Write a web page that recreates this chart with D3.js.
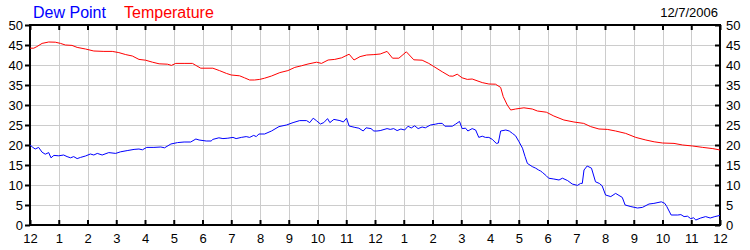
<!DOCTYPE html>
<html>
<head>
<meta charset="utf-8">
<script src="https://cdn.jsdelivr.net/npm/d3@7"></script>
<style>
  body { margin: 0; background: #fff; }
  svg text { font-family: "Liberation Sans", Arial, sans-serif; }
</style>
</head>
<body>
<div id="chart"></div>
<script>
// readings, hours since midnight
const tempHours = [0, 0.13, 0.24, 0.42, 0.65, 0.88, 1.06, 1.23, 1.46, 1.64, 1.93, 2.22, 2.57, 2.86, 3.09, 3.33, 3.56, 3.79, 4.02, 4.26, 4.49, 4.78, 4.92, 5.07, 5.36, 5.65, 5.77, 5.94, 6.36, 6.59, 6.83, 7.0, 7.29, 7.46, 7.64, 7.81, 7.99, 8.16, 8.4, 8.69, 8.97, 9.21, 9.44, 9.67, 9.97, 10.14, 10.37, 10.6, 10.84, 11.1, 11.27, 11.48, 11.71, 11.96, 12.18, 12.42, 12.61, 12.83, 13.09, 13.35, 13.64, 13.87, 14.05, 14.34, 14.59, 14.71, 14.86, 15.03, 15.21, 15.38, 15.73, 15.96, 16.19, 16.37, 16.46, 16.6, 16.72, 16.89, 17.18, 17.47, 17.65, 17.96, 18.22, 18.57, 18.92, 19.26, 19.5, 19.79, 20.08, 20.37, 20.72, 21.07, 21.42, 21.71, 22.0, 22.4, 22.7, 23.05, 23.4, 23.75, 24]
const tempValues = [44.2, 44.2, 44.6, 45.4, 45.75, 45.7, 45.4, 45.0, 44.9, 44.4, 44.0, 43.5, 43.4, 43.4, 43.1, 42.6, 42.25, 41.4, 41.2, 40.7, 40.3, 40.2, 39.9, 40.4, 40.4, 40.4, 39.9, 39.2, 39.2, 38.6, 37.9, 37.5, 37.3, 36.8, 36.25, 36.25, 36.4, 36.7, 37.25, 38.1, 38.6, 39.4, 39.8, 40.25, 40.7, 40.4, 41.25, 41.4, 41.8, 42.7, 41.25, 42.1, 42.5, 42.6, 42.75, 43.4, 41.7, 41.7, 43.3, 41.3, 41.2, 40.4, 39.6, 38.3, 37.25, 37.2, 37.7, 36.8, 36.4, 36.5, 35.6, 35.25, 35.2, 34.4, 32.1, 30, 28.75, 29, 29.3, 29, 28.5, 28.2, 27.25, 26.25, 25.75, 25.4, 24.6, 24, 23.9, 23.5, 22.9, 21.9, 21.25, 20.8, 20.5, 20.4, 20, 19.75, 19.4, 19.1, 18.75]

const dewHours = [0, 0.1, 0.18, 0.3, 0.42, 0.53, 0.65, 0.73, 0.83, 1.0, 1.17, 1.29, 1.41, 1.52, 1.64, 1.76, 1.93, 2.1, 2.22, 2.34, 2.51, 2.74, 2.98, 3.15, 3.38, 3.62, 3.79, 3.91, 4.06, 4.31, 4.55, 4.68, 4.9, 5.13, 5.36, 5.59, 5.77, 5.88, 6.13, 6.3, 6.36, 6.57, 6.71, 6.88, 7.06, 7.17, 7.35, 7.52, 7.64, 7.78, 7.87, 7.96, 8.16, 8.4, 8.66, 8.92, 9.15, 9.38, 9.62, 9.73, 9.85, 9.96, 10.1, 10.22, 10.35, 10.43, 10.57, 10.78, 10.9, 11.01, 11.1, 11.3, 11.44, 11.59, 11.69, 11.86, 11.96, 12.07, 12.18, 12.42, 12.53, 12.65, 12.77, 12.9, 13.03, 13.15, 13.26, 13.38, 13.5, 13.64, 13.75, 13.93, 14.1, 14.22, 14.34, 14.43, 14.69, 14.8, 14.94, 15.03, 15.15, 15.23, 15.38, 15.5, 15.61, 15.73, 15.84, 15.96, 16.08, 16.22, 16.29, 16.37, 16.55, 16.67, 16.78, 16.89, 17.01, 17.13, 17.22, 17.3, 17.47, 17.59, 17.69, 17.76, 17.83, 17.96, 18.04, 18.22, 18.4, 18.52, 18.7, 18.86, 19.04, 19.15, 19.21, 19.27, 19.38, 19.53, 19.67, 19.8, 19.9, 20.02, 20.2, 20.37, 20.6, 20.7, 20.9, 21.13, 21.3, 21.53, 21.7, 21.96, 22.08, 22.15, 22.3, 22.53, 22.64, 22.75, 22.87, 22.98, 23.08, 23.16, 23.33, 23.5, 23.66, 23.82, 24]
const dewValues = [20, 19.4, 19, 19.4, 18.2, 17.7, 18.1, 16.8, 17.4, 17.3, 17.5, 17.1, 16.8, 17.1, 16.6, 16.9, 17.25, 17.75, 17.5, 17.9, 17.5, 18.1, 17.9, 18.3, 18.6, 18.9, 19, 18.8, 19.4, 19.4, 19.5, 19.3, 20.25, 20.6, 20.75, 20.75, 21.5, 21.25, 21, 21, 21.4, 21.8, 21.6, 21.7, 21.9, 21.6, 21.9, 22.1, 21.9, 22.4, 22.1, 22.75, 22.75, 23.5, 24.6, 25, 25.6, 26.1, 26.1, 25.6, 26.7, 26.1, 25.25, 25.6, 26.6, 25.6, 26.4, 26.1, 25.75, 26.7, 24.75, 24.4, 24.2, 23.5, 24.3, 24.1, 23.5, 23.5, 23.6, 24.1, 23.9, 24.1, 23.6, 24, 23.75, 24.7, 24.25, 24.8, 24.1, 24.5, 24.3, 25, 25.2, 25.4, 25.4, 24.7, 24.7, 25.2, 25.9, 24.1, 24.2, 23.5, 24.1, 23.75, 21.9, 22.2, 21.9, 21.9, 21.4, 20.4, 20.5, 23.5, 23.75, 23.5, 22.9, 22.3, 20.8, 19.2, 17.1, 15.4, 14.6, 14.2, 13.75, 13.5, 13.1, 12.3, 11.7, 11.5, 11.25, 11.7, 11.1, 10.25, 9.9, 10.4, 10.4, 13.75, 14.75, 14.2, 10.8, 10.4, 9.8, 7.5, 7.1, 7.9, 6.9, 5, 4.6, 4.25, 4.4, 5.25, 5.4, 5.8, 5.4, 4.6, 2.5, 2.5, 2.6, 2.1, 2.2, 1.6, 1.8, 1.25, 1.75, 2.1, 1.75, 2.1, 2.4]

const hourTicks = d3.range(0, 25)
const hourLabels = ["12", "1", "2", "3", "4", "5", "6", "7", "8", "9", "10", "11", "12", "1", "2", "3", "4", "5", "6", "7", "8", "9", "10", "11", "12"]
const valueTicks = [0, 5, 10, 15, 20, 25, 30, 35, 40, 45, 50]
const chartDate = "12/7/2006"

const MARGIN = { TOP: 25, BOTTOM: 25, LEFT: 30, RIGHT: 30 }
const WIDTH = 750 - MARGIN.LEFT - MARGIN.RIGHT
const HEIGHT = 250 - MARGIN.TOP - MARGIN.BOTTOM

const root = d3.select("#chart")
    .append("svg")
        .attr("width", 750)
        .attr("height", 250)

const svg = root.append("g")
    .attr("transform", `translate(${MARGIN.LEFT}, ${MARGIN.TOP})`)

const x = d3.scaleLinear().domain([0, 24]).range([0, WIDTH])
const y = d3.scaleLinear().domain([0, 50]).range([HEIGHT, 0])

// grid
svg.append("g")
    .selectAll("line.v")
    .data(hourTicks.slice(1, -1))
    .enter().append("line")
        .attr("x1", d => Math.round(x(d)) + 0.5)
        .attr("x2", d => Math.round(x(d)) + 0.5)
        .attr("y1", 0)
        .attr("y2", HEIGHT)
        .attr("stroke", "#cccccc")

svg.append("g")
    .selectAll("line.h")
    .data(valueTicks.slice(1, -1))
    .enter().append("line")
        .attr("x1", 0)
        .attr("x2", WIDTH)
        .attr("y1", d => Math.round(y(d)) + 0.5)
        .attr("y2", d => Math.round(y(d)) + 0.5)
        .attr("stroke", "#cccccc")

// axes
const fmtHour = (d, i) => hourLabels[i]

const xAxisCall = d3.axisBottom(x).tickValues(hourTicks).tickFormat(fmtHour)
    .tickSizeInner(-5).tickSizeOuter(0).tickPadding(9)
const xTopCall = d3.axisTop(x).tickValues(hourTicks).tickFormat("")
    .tickSizeInner(-5).tickSizeOuter(0)
const yAxisCall = d3.axisLeft(y).tickValues(valueTicks)
    .tickSizeInner(5).tickSizeOuter(0).tickPadding(2)
const yRightCall = d3.axisRight(y).tickValues(valueTicks)
    .tickSizeInner(-5).tickSizeOuter(0).tickPadding(6)

const axes = [
    svg.append("g").attr("transform", `translate(0, ${HEIGHT})`).call(xAxisCall),
    svg.append("g").call(xTopCall),
    svg.append("g").call(yAxisCall),
    svg.append("g").attr("transform", `translate(${WIDTH}, 0)`).call(yRightCall)
]
axes.forEach(g => {
    g.select(".domain").remove()
    g.selectAll(".tick line").attr("stroke", "#000").attr("stroke-width", 2)
    g.selectAll(".tick text").attr("fill", "#000").attr("font-size", 13)
        .attr("font-family", "'Liberation Sans', Arial, sans-serif")
})

// frame
svg.append("rect")
    .attr("x", 0)
    .attr("y", 0)
    .attr("width", WIDTH)
    .attr("height", HEIGHT)
    .attr("fill", "none")
    .attr("stroke", "#000")
    .attr("stroke-width", 2)

// series
const line = d3.line()
    .x(d => x(d[0]))
    .y(d => y(d[1]))

svg.append("path")
    .datum(d3.zip(tempHours, tempValues))
    .attr("d", line)
    .attr("fill", "none")
    .attr("stroke", "#ff0000")
    .attr("stroke-width", 1)

svg.append("path")
    .datum(d3.zip(dewHours, dewValues))
    .attr("d", line)
    .attr("fill", "none")
    .attr("stroke", "#0000ff")
    .attr("stroke-width", 1)

// legend + date
root.append("text")
    .attr("x", 33).attr("y", 18)
    .attr("font-size", 16)
    .attr("fill", "#0000ff")
    .text("Dew Point")

root.append("text")
    .attr("x", 124).attr("y", 18)
    .attr("font-size", 16)
    .attr("fill", "#ff0000")
    .text("Temperature")

root.append("text")
    .attr("x", 718).attr("y", 17)
    .attr("text-anchor", "end")
    .attr("font-size", 13)
    .attr("fill", "#000")
    .text(chartDate)
</script>
</body>
</html>
